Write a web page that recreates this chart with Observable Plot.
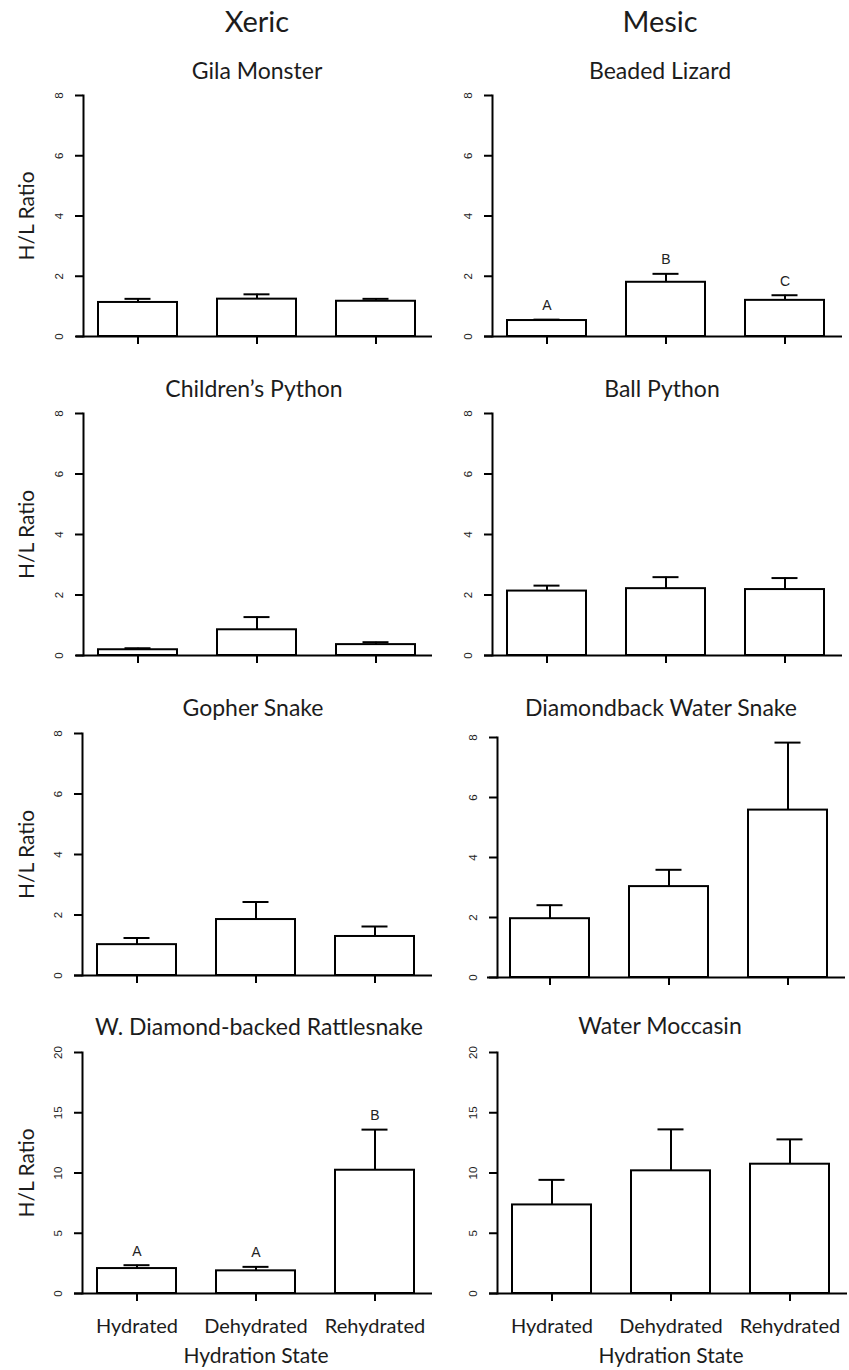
<!DOCTYPE html>
<html>
<head>
<meta charset="utf-8">
<script src="https://cdn.jsdelivr.net/npm/d3@7"></script>
<script src="https://cdn.jsdelivr.net/npm/@observablehq/plot@0.6"></script>
<style>
  html, body { margin: 0; padding: 0; background: #fff; }
  #chart { position: relative; width: 849px; height: 1370px; overflow: hidden; font-family: Lato, "Open Sans", sans-serif; }
  .panel { position: absolute; }
  .panel svg { max-width: none; overflow: visible; background: none; }
  .lbl { position: absolute; transform: translate(-50%, -50%); white-space: nowrap; color: #1c1c1c; line-height: 1; z-index: 2; }
</style>
</head>
<body>
<div id="chart"></div>
<script>
// Hydration states on the x axis
const states = ["Hydrated", "Dehydrated", "Rehydrated"];

// Column headings (habitat type)
const habitats = ["Xeric", "Mesic"];

// Species, left column = xeric, right column = mesic
const species = [
  "Gila Monster", "Beaded Lizard",
  "Children\u2019s Python", "Ball Python",
  "Gopher Snake", "Diamondback Water Snake",
  "W. Diamond-backed Rattlesnake", "Water Moccasin"
];

// Mean heterophil/lymphocyte ratio per species and hydration state
const meanHL = [
  [1.13, 1.24, 1.17],
  [0.53, 1.80, 1.20],
  [0.19, 0.85, 0.36],
  [2.13, 2.21, 2.18],
  [1.02, 1.85, 1.29],
  [1.96, 3.03, 5.58],
  [2.07, 1.88, 10.23],
  [7.35, 10.18, 10.73]
];

// Standard error (upper error bar length)
const seHL = [
  [0.12, 0.16, 0.08],
  [0.03, 0.28, 0.17],
  [0.05, 0.42, 0.08],
  [0.18, 0.38, 0.38],
  [0.22, 0.58, 0.33],
  [0.45, 0.56, 2.25],
  [0.28, 0.33, 3.37],
  [2.08, 3.44, 2.06]
];

// Significance letters (null = none shown)
const sigLetters = [
  null, ["A", "B", "C"],
  null, null,
  null, null,
  ["A", "A", "B"], null
];

// Y axis ticks
const ticksLow = [0, 2, 4, 6, 8];
const ticksHigh = [0, 5, 10, 15, 20];
const panelTicks = [ticksLow, ticksLow, ticksLow, ticksLow, ticksLow, ticksLow, ticksHigh, ticksHigh];

// Page geometry of each panel (pixels)
const frames = [
  {left: 0,   w: 440, axisX: 83,  barL: 97,  barR: 416, baseL: 76,  baseR: 432, top: 95,   zero: 336},
  {left: 440, w: 409, axisX: 492, barL: 506, barR: 825, baseL: 484, baseR: 842, top: 95,   zero: 336},
  {left: 0,   w: 440, axisX: 83,  barL: 97,  barR: 416, baseL: 76,  baseR: 432, top: 413,  zero: 655},
  {left: 440, w: 409, axisX: 492, barL: 506, barR: 825, baseL: 484, baseR: 842, top: 413,  zero: 655},
  {left: 0,   w: 440, axisX: 82,  barL: 96,  barR: 415, baseL: 74,  baseR: 432, top: 733,  zero: 975},
  {left: 440, w: 409, axisX: 497, barL: 509, barR: 828, baseL: 487, baseR: 845, top: 737,  zero: 977},
  {left: 0,   w: 440, axisX: 82,  barL: 96,  barR: 415, baseL: 74,  baseR: 432, top: 1052, zero: 1293},
  {left: 440, w: 409, axisX: 497, barL: 511, barR: 830, baseL: 489, baseR: 847, top: 1052, zero: 1293}
];

// Title centres
const headerPos = [[257, 20], [660, 20]];
const titlePos = [[257, 70], [660, 70], [254, 388], [662, 388], [253, 707], [661, 707], [259, 1026], [660, 1025]];

const chart = document.getElementById("chart");
const sans = "Liberation Sans, Arial, sans-serif";

function addLabel(text, [cx, cy], size) {
  const d = document.createElement("div");
  d.className = "lbl";
  d.textContent = text;
  d.style.left = cx + "px";
  d.style.top = cy + "px";
  d.style.fontSize = size + "px";
  chart.appendChild(d);
}

function panel(i) {
  const f = frames[i];
  const last = i >= 6;
  const leftCol = i % 2 === 0;
  const svgTop = f.top - 15;
  const bottomPad = last ? 76 : 22;
  const H = f.zero - svgTop + bottomPad;
  const ticks = panelTicks[i];
  const rows = states.map((s, j) => ({
    state: s,
    mean: meanHL[i][j],
    upper: meanHL[i][j] + seHL[i][j],
    letter: sigLetters[i] ? sigLetters[i][j] : null
  }));
  const tickLen = 8;

  const marks = [
    Plot.barY(rows, {x: "state", y: "mean", fill: "white", stroke: "black", strokeWidth: 2}),
    Plot.ruleX(rows, {x: "state", y1: "mean", y2: "upper", stroke: "black", strokeWidth: 2}),
    Plot.tickY(rows, {x: "state", y: "upper", stroke: "black", strokeWidth: 2, insetLeft: 26.5, insetRight: 26.5}),
    Plot.frame({anchor: "left", stroke: "black", strokeWidth: 2}),
    Plot.ruleY([0], {stroke: "black", strokeWidth: 2, insetLeft: -(f.axisX - f.baseL)}),
    // y ticks (marks only) and rotated tick labels, parallel to the axis
    Plot.axisY({ticks, tickSize: tickLen, strokeWidth: 2, tickFormat: () => "", label: null}),
    Plot.text(ticks, {
      y: (d) => d, text: (d) => String(d), frameAnchor: "left",
      dx: -(tickLen + 13), rotate: -90, textAnchor: "middle", lineAnchor: "bottom",
      fontSize: 11.5, fontFamily: sans, fill: "#222"
    }),
    Plot.axisX({
      tickSize: 8, strokeWidth: 2, label: null,
      tickFormat: last ? (d) => d : () => "",
      tickPadding: 17, fontSize: 20, fill: "#1c1c1c"
    })
  ];

  if (sigLetters[i]) {
    marks.push(Plot.text(rows, {
      x: "state", y: "upper", text: "letter", dy: -14,
      fontSize: 14, fontFamily: sans, fill: "#222"
    }));
  }
  if (leftCol) {
    marks.push(Plot.text(["H/L Ratio"], {
      frameAnchor: "left", dx: 27 - f.axisX, rotate: -90,
      textAnchor: "middle", lineAnchor: "middle",
      fontSize: 21, fill: "#1c1c1c"
    }));
  }
  if (last) {
    marks.push(Plot.text(["Hydration State"], {
      x: () => states[1], frameAnchor: "bottom", dy: 63,
      textAnchor: "middle", lineAnchor: "middle",
      fontSize: 21, fill: "#1c1c1c"
    }));
  }

  const svg = Plot.plot({
    width: f.w,
    height: H,
    marginLeft: f.axisX - f.left,
    marginRight: f.left + f.w - f.baseR,
    marginTop: f.top - svgTop,
    marginBottom: bottomPad,
    style: {fontFamily: "Lato, 'Open Sans', sans-serif", background: "none", overflow: "visible"},
    x: {type: "band", domain: states, range: [f.barL - f.left, f.barR - f.left], paddingInner: 1 / 3, paddingOuter: 0},
    y: {domain: [ticks[0], ticks[ticks.length - 1]], range: [f.zero - svgTop, f.top - svgTop]},
    marks
  });

  const wrap = document.createElement("div");
  wrap.className = "panel";
  wrap.style.left = f.left + "px";
  wrap.style.top = svgTop + "px";
  wrap.appendChild(svg);
  chart.appendChild(wrap);
}

for (let i = 0; i < species.length; i++) panel(i);

habitats.forEach((h, k) => addLabel(h, headerPos[k], 29));
species.forEach((s, i) => addLabel(s, titlePos[i], 23));
</script>
</body>
</html>
